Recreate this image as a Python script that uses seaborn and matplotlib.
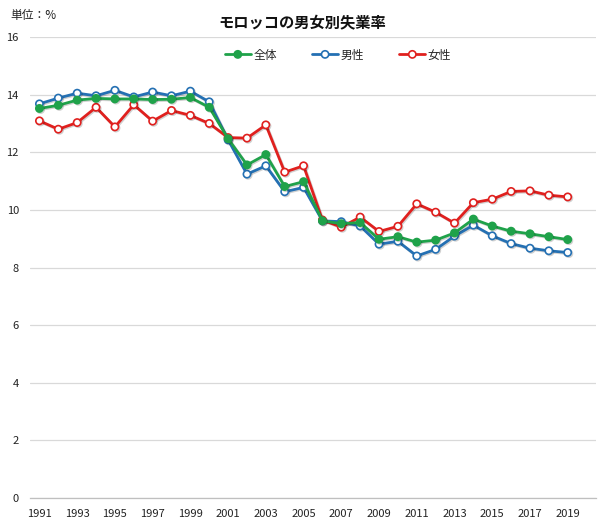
import matplotlib
matplotlib.use("Agg")
import matplotlib.pyplot as plt
import matplotlib.patheffects as pe
import seaborn as sns
import pandas as pd
import numpy as np
from matplotlib.ticker import FixedLocator

years = list(range(1991, 2020))
total = [13.52, 13.63, 13.81, 13.87, 13.85, 13.85, 13.83, 13.84, 13.90, 13.56,
         12.47, 11.56, 11.92, 10.81, 10.98, 9.62, 9.52, 9.56, 8.98, 9.07,
         8.88, 8.95, 9.20, 9.68, 9.44, 9.26, 9.17, 9.07, 8.97]
male = [13.68, 13.88, 14.05, 13.96, 14.15, 13.92, 14.09, 13.96, 14.12, 13.75,
        12.43, 11.24, 11.53, 10.63, 10.78, 9.62, 9.59, 9.44, 8.81, 8.91,
        8.40, 8.63, 9.09, 9.47, 9.10, 8.83, 8.67, 8.58, 8.52]
female = [13.09, 12.80, 13.03, 13.56, 12.88, 13.65, 13.08, 13.45, 13.28, 13.00,
          12.51, 12.49, 12.95, 11.31, 11.53, 9.65, 9.40, 9.75, 9.25, 9.43,
          10.21, 9.92, 9.54, 10.25, 10.37, 10.64, 10.66, 10.51, 10.45]
series_names = ["全体", "男性", "女性"]
colors = {"全体": "#1FA24A", "男性": "#2470B3", "女性": "#E0201E"}
x_tick_labels = [str(y) for y in range(1991, 2020, 2)]
y_ticks = [0, 2, 4, 6, 8, 10, 12, 14, 16]

df = pd.DataFrame({
    "年": years * 3,
    "値": total + male + female,
    "系列": [series_names[0]] * len(years) + [series_names[1]] * len(years) + [series_names[2]] * len(years),
})

sns.set_theme(style="white")
plt.rcParams["font.family"] = ["Noto Sans CJK JP", "DejaVu Sans"]

fig = plt.figure(figsize=(6.09, 5.28), dpi=100)
ax = fig.add_axes([30 / 609, 30 / 528, 566 / 609, 461 / 528])

shadow = [pe.SimpleLineShadow(offset=(0.8, -0.8), alpha=0.18, shadow_color="black"), pe.Normal()]
for name in series_names:
    sub = df[df["系列"] == name]
    face = colors[name] if name == "全体" else "white"
    sns.lineplot(data=sub, x="年", y="値", ax=ax, color=colors[name], linewidth=2.0,
                 marker="o", markersize=5.2, markerfacecolor=face,
                 markeredgecolor=colors[name], markeredgewidth=1.2,
                 label=name, zorder=3 if name != "全体" else 3.5)
for line in ax.get_lines():
    line.set_path_effects(shadow)

ax.set_xlim(1990.5, 2020.5)
ax.set_ylim(0, 16)
ax.set_yticks(y_ticks)
ax.set_yticklabels([str(v) for v in y_ticks], fontsize=8, color="#222222")
ax.set_xticks(list(range(1991, 2020, 2)))
ax.set_xticklabels(x_tick_labels, fontsize=8, color="#222222")
ax.xaxis.set_minor_locator(FixedLocator(np.arange(1990.5, 2021, 1)))
ax.tick_params(axis="x", which="major", length=0, pad=8)
ax.tick_params(axis="x", which="minor", length=4, color="#BFBFBF", width=0.8, direction="out")
ax.tick_params(axis="y", length=0, pad=8)
ax.grid(axis="y", color="#D9D9D9", linewidth=0.9)
ax.set_axisbelow(True)
for s in ["top", "right", "left"]:
    ax.spines[s].set_visible(False)
ax.spines["bottom"].set_color("#BFBFBF")
ax.spines["bottom"].set_linewidth(0.9)
ax.set_xlabel("")
ax.set_ylabel("")

leg = ax.legend(loc="center", bbox_to_anchor=(338 / 609, 1 - 55 / 528),
                bbox_transform=fig.transFigure, ncol=3, frameon=False,
                fontsize=8.5, handlelength=2.2, columnspacing=3.0, handletextpad=0.2,
                borderpad=0)
for h in leg.get_lines():
    h.set_path_effects([pe.Normal()])

fig.text(302 / 609, 1 - 22 / 528, "モロッコの男女別失業率", ha="center", va="center",
         fontsize=11, fontweight="bold", color="#111111")
fig.text(10 / 609, 1 - 16 / 528, "単位：%", ha="left", va="center", fontsize=8.5, color="#222222")

fig.savefig("out.png", dpi=100)
